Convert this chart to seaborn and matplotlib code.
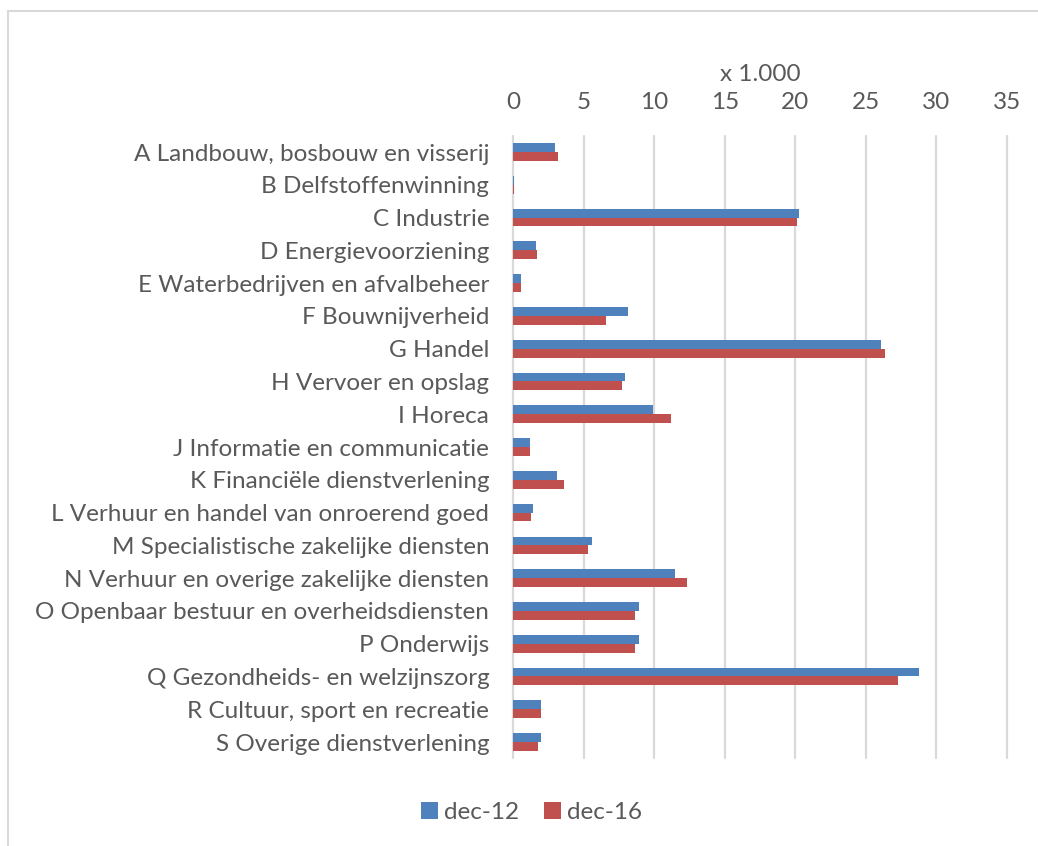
import seaborn as sns
import matplotlib.pyplot as plt
import pandas as pd
from matplotlib.patches import Rectangle, Patch

# Data (x 1.000 jobs)
categories = [
    "A Landbouw, bosbouw en visserij",
    "B Delfstoffenwinning",
    "C Industrie",
    "D Energievoorziening",
    "E Waterbedrijven en afvalbeheer",
    "F Bouwnijverheid",
    "G Handel",
    "H Vervoer en opslag",
    "I Horeca",
    "J Informatie en communicatie",
    "K Financiële dienstverlening",
    "L Verhuur en handel van onroerend goed",
    "M Specialistische zakelijke diensten",
    "N Verhuur en overige zakelijke diensten",
    "O Openbaar bestuur en overheidsdiensten",
    "P Onderwijs",
    "Q Gezondheids- en welzijnszorg",
    "R Cultuur, sport en recreatie",
    "S Overige dienstverlening",
]
dec_12 = [2.95, 0.05, 20.3, 1.6, 0.6, 8.15, 26.05, 7.95, 9.95, 1.2, 3.1, 1.4,
          5.6, 11.45, 8.95, 8.95, 28.8, 2.0, 2.0]
dec_16 = [3.2, 0.05, 20.15, 1.7, 0.6, 6.6, 26.35, 7.75, 11.2, 1.2, 3.6, 1.3,
          5.3, 12.35, 8.65, 8.65, 27.3, 2.0, 1.8]
series = ["dec-12", "dec-16"]
colors = ["#4F81BD", "#C0504D"]

TEXT = "#595959"
GRID = "#D9D9D9"
FS = 17.5

df = pd.DataFrame({
    "category": categories * 2,
    "value": dec_12 + dec_16,
    "series": [series[0]] * len(categories) + [series[1]] * len(categories),
})

sns.set_style("white")
plt.rcParams['font.family'] = ['Lato', 'DejaVu Sans']

fig = plt.figure(figsize=(10.38, 8.46), dpi=100)
ax = fig.add_axes([0.4942, 0.1035, 0.4759, 0.7362])

# outer chart border (only top and left visible in the reference)
fig.patches.append(Rectangle((8 / 1038, -0.1), 1.2, 1.1 - 11 / 846,
                             transform=fig.transFigure, fill=False,
                             edgecolor=GRID, linewidth=1.5))

sns.barplot(data=df, x="value", y="category", hue="series", orient="h",
            palette=colors, width=0.54, ax=ax, legend=False, saturation=1,
            linewidth=0)

ax.set_xlim(0, 35)
ax.set_ylim(len(categories) - 0.5, -0.5)
ax.set_xticks(range(0, 36, 5))
ax.xaxis.tick_top()
ax.xaxis.set_label_position("top")
ax.set_xlabel("x 1.000", color=TEXT, fontsize=FS, labelpad=8)
ax.set_ylabel("")
ax.tick_params(axis="both", length=0, labelsize=FS, labelcolor=TEXT)
ax.tick_params(axis="x", pad=16)
ax.tick_params(axis="y", pad=17)
for s in ax.spines.values():
    s.set_visible(False)
ax.grid(axis="x", color=GRID, linewidth=1.6, clip_on=False)
ax.grid(axis="y", visible=False)
ax.set_axisbelow(True)

handles = [Patch(facecolor=c, linewidth=0) for c in colors]
fig.legend(handles, series, loc="center", bbox_to_anchor=(0.512, 0.04), ncol=2,
           frameon=False, fontsize=FS, labelcolor=TEXT, handlelength=0.7,
           handleheight=0.7, handletextpad=0.25, columnspacing=1.0)

fig.savefig("out.png", dpi=100)
